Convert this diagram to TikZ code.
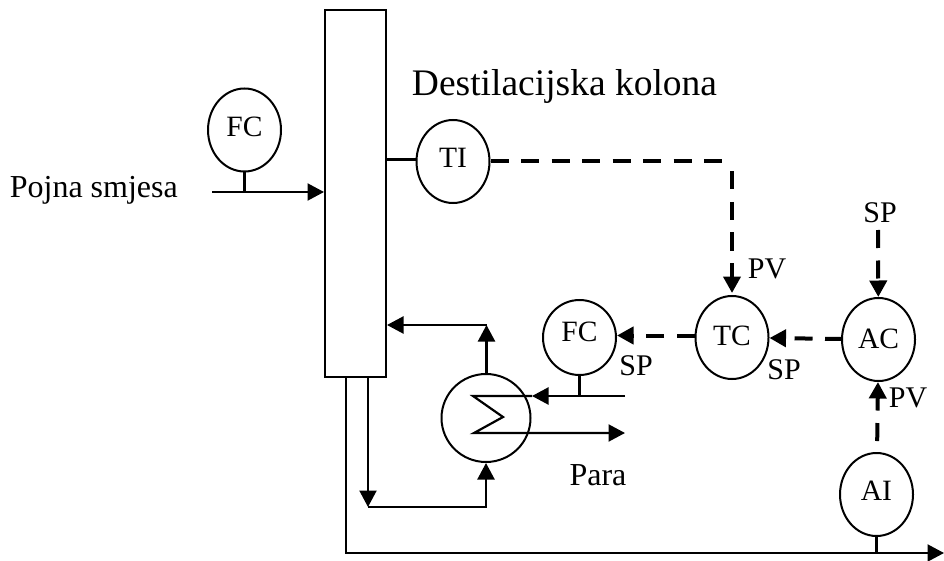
\documentclass[tikz,border=0pt]{standalone}
\usepackage{fontspec}
\setmainfont{Liberation Serif}
\usetikzlibrary{arrows.meta, positioning, shapes.geometric}

\begin{document}
\begin{tikzpicture}[
  x=1pt, y=-1pt,
  >={Triangle[length=16.5pt, width=17pt]},
  instr/.style={ellipse, draw, line width=2pt, inner sep=0pt, minimum width=73pt, minimum height=83pt,
    text depth=6pt, font=\fontsize{29.5}{31}\selectfont},
  column/.style={rectangle, draw, line width=2pt, inner sep=0pt, minimum width=61pt, minimum height=367pt},
  line/.style={line width=2.2pt},
  arr/.style={->, line width=2.2pt},
  sigline/.style={line width=4pt, dash pattern=on 18pt off 12.5pt},
  sig/.style={->, sigline},
  lbl/.style={inner sep=0pt, font=\fontsize{30}{32}\selectfont},
  title/.style={inner sep=0pt, font=\fontsize{32}{34}\selectfont},
]
\useasboundingbox (0,0) rectangle (944,561);

% Column and feed
\node[column] (col) at (355.5,193.5) {};
\node[instr, left=42pt of col, yshift=63.5pt] (fcfeed) {FC};
\node[instr, text depth=8pt, right=28.5pt of col.east, yshift=32pt] (ti) {TI};
\coordinate (feedin) at (212,192);
\node[title, anchor=east] (feedlbl) at (178,190.5) {Pojna smjesa};
\node[inner sep=0pt, font=\fontsize{37.5}{39}\selectfont] (collbl) at (564.5,86) {Destilacijska kolona};

% Controllers
\node[instr, text depth=4pt] (tc) at (732,337.5) {TC};
\node[instr, text depth=1pt, right=71.5pt of tc, yshift=-2pt] (ac) {AC};
\node[instr, text depth=8pt, below=70pt of ac, xshift=-2pt] (ai) {AI};
\node[instr, text depth=12pt, left=77.5pt of tc, minimum height=75pt] (fcsteam) {FC};

% Reboiler
\node[ellipse, draw, line width=2pt, inner sep=0pt, minimum width=89pt, minimum height=88pt,
  left=10.5pt of fcsteam, yshift=-80.5pt] (hx) {};
\coordinate (steamin) at (625,396);
\coordinate (steamtip) at (532,396);
\coordinate (coila) at (473,396);
\coordinate (coilb) at (503,417);
\coordinate (coilc) at (474,433);
\coordinate (steamout) at (625,433);
\coordinate (ret) at (486.5,325);
\coordinate (bot) at (368,507);
\coordinate (prod) at (346,553);
\coordinate (prodend) at (944,553);
\coordinate (spin) at (878,230);
\coordinate (bend) at (732,161.5);

% Labels
\node[lbl] (pvtc) at (767,269) {PV};
\node[lbl] (spac) at (880,212.5) {SP};
\node[lbl] (sptc) at (784,369.5) {SP};
\node[lbl] (pvac) at (908,397.5) {PV};
\node[lbl] (spfc) at (636,365.5) {SP};
\node[title] (paralbl) at (598,475) {Para};

% Process lines
\draw[arr] (feedin) -- (feedin -| col.west);
\draw[line] (fcfeed) -- (fcfeed |- feedin);
\draw[line] ([yshift=2pt]ti.west) -- ([yshift=2pt]ti.west -| col.east);
\draw[arr] (ret |- hx.north) -- (ret);
\draw[arr] (ret) -- (ret -| col.east);
\draw[arr] (bot |- col.south) -- (bot);
\draw[arr] (bot) -| (hx.south);
\draw[arr] (prod |- col.south) -- (prod) -- (prodend);
\draw[line] (ai) -- (ai |- prod);
\draw[arr] (steamin) -- (steamtip);
\draw[line] (fcsteam) -- (fcsteam |- steamin);
\draw[arr] (steamtip) -- (coila) -- (coilb) -- (coilc) -- (steamout);

% Signals
\draw[sigline] (ti) -- (bend);
\draw[sig, dash phase=20.5pt, shorten >=2pt] (bend) -- (tc);
\draw[sig] ([yshift=2pt]tc.west) -- ([yshift=2pt]tc.west -| fcsteam.east);
\draw[sig, dash phase=2pt] (ac) -- (tc);
\draw[sig] (spin) -- (ac);
\draw[sig, dash phase=19.5pt] (ai) -- (ac);

\end{tikzpicture}
\end{document}
